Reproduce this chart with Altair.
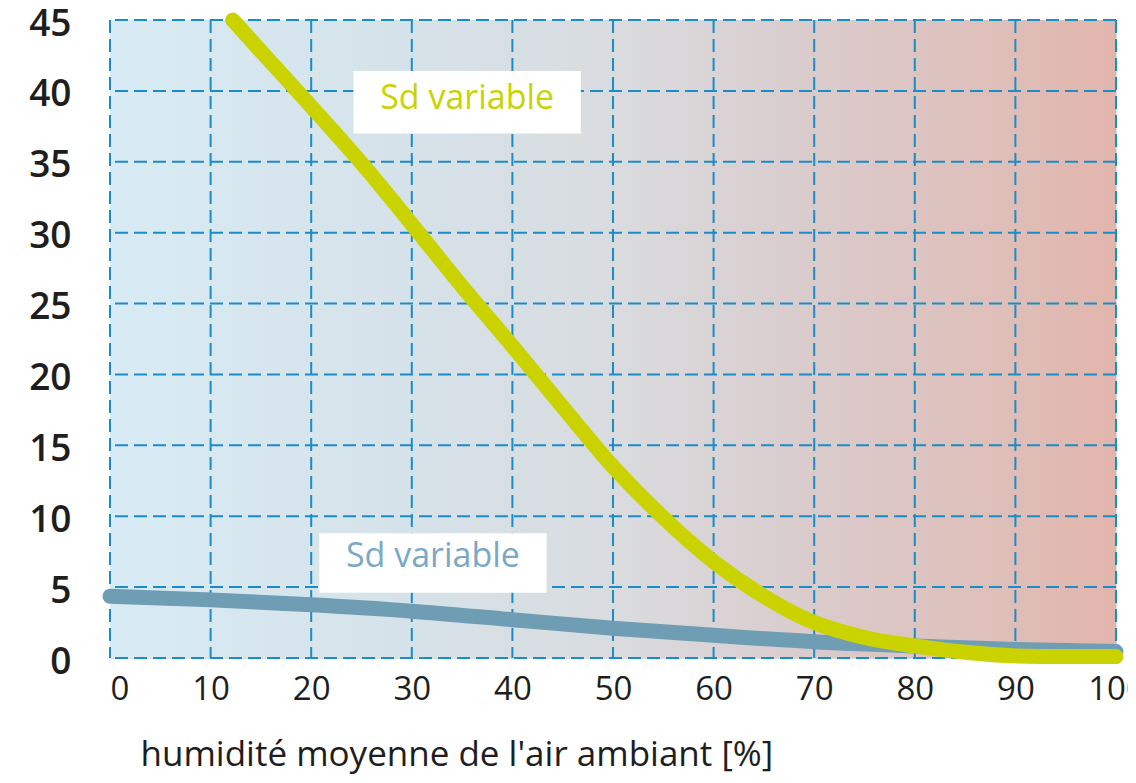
import altair as alt
import pandas as pd

# ---- data ----
yellow_x = [12.2, 15, 20, 25, 30, 35, 40, 45, 50, 55, 60, 65, 70, 75, 80, 85, 90, 95, 100]
yellow_y = [45.0, 42.8, 38.9, 34.9, 30.6, 26.2, 22.0, 17.7, 13.5, 9.9, 6.8, 4.35, 2.5, 1.45, 0.85, 0.4, 0.15, 0.1, 0.1]

blue_x = [0, 10, 20, 30, 40, 50, 60, 70, 80, 90, 100]
blue_y = [4.35, 4.1, 3.75, 3.3, 2.7, 2.1, 1.6, 1.15, 0.85, 0.6, 0.45]

x_ticks = [0, 10, 20, 30, 40, 50, 60, 70, 80, 90, 100]
y_ticks = [0, 5, 10, 15, 20, 25, 30, 35, 40, 45]

label_text = ["Sd variable", "Sd variable"]
label_series = ["yellow", "blue"]
label_x = [35.5, 32.1]
label_y = [39.4, 7.1]
box_x1 = [24.2, 20.8]
box_x2 = [46.8, 43.4]
box_y1 = [37.0, 4.6]
box_y2 = [41.4, 8.8]

x_title = "humidité moyenne de l'air ambiant [%]"

YELLOW = "#cad300"
BLUE_LINE = "#6f9db4"
BLUE_TEXT = "#7ba8c6"
GRID = "#1a8cc8"

xs = alt.Scale(domain=[0, 100], nice=False, zero=False)
ys = alt.Scale(domain=[0, 45], nice=False, zero=False)

gradient = {
    "gradient": "linear",
    "x1": 0, "x2": 1, "y1": 0, "y2": 0,
    "stops": [
        {"offset": 0.0, "color": "#d8ebf4"},
        {"offset": 0.3, "color": "#d6e2e9"},
        {"offset": 0.5, "color": "#d9dcdf"},
        {"offset": 0.7, "color": "#dacbcc"},
        {"offset": 0.9, "color": "#dfbeb7"},
        {"offset": 1.0, "color": "#e2b5ac"},
    ],
}

bg = alt.Chart(pd.DataFrame({"a": [0]})).mark_rect(fill=gradient, stroke=None).encode(
    x=alt.datum(0, scale=xs, type="quantitative"),
    x2=alt.datum(100),
    y=alt.datum(0, scale=ys, type="quantitative"),
    y2=alt.datum(45),
)

vgrid = alt.Chart(pd.DataFrame({"v": x_ticks})).mark_rule(
    color=GRID, strokeWidth=2, strokeDash=[13, 6]
).encode(x=alt.X("v:Q", scale=xs))

hgrid = alt.Chart(pd.DataFrame({"v": y_ticks})).mark_rule(
    color=GRID, strokeWidth=2, strokeDash=[13, 6]
).encode(y=alt.Y("v:Q", scale=ys))

blue_df = pd.DataFrame({"x": blue_x, "y": blue_y})
yellow_df = pd.DataFrame({"x": yellow_x, "y": yellow_y})

blue_line = alt.Chart(blue_df).mark_line(
    color=BLUE_LINE, strokeWidth=15, strokeCap="round", interpolate="monotone"
).encode(
    x=alt.X("x:Q", scale=xs,
            axis=alt.Axis(values=x_ticks, title=x_title, grid=False, domain=False,
                          ticks=False, tickSize=0, labelFontSize=33, labelFont="Open Sans",
                          labelColor="#1e1e1e", labelPadding=41, labelBaseline="alphabetic",
                          labelAlign=alt.expr("datum.value == 0 ? 'left' : 'center'"),
                          labelFlush=False, labelOverlap=False,
                          titleFont="Open Sans", titleFontSize=35, titleFontWeight="normal",
                          titleColor="#1e1e1e", titleAnchor="start", titleAlign="left",
                          titleBaseline="alphabetic", titleX=30, titleY=107)),
    y=alt.Y("y:Q", scale=ys,
            axis=alt.Axis(values=y_ticks, title=None, grid=False, domain=False,
                          ticks=False, tickSize=0, labelFontSize=37, labelFont="Open Sans",
                          labelFontWeight=600, labelColor="#1e1e1e", labelPadding=39,
                          labelOffset=4, labelFlush=False, labelOverlap=False)),
)

yellow_line = alt.Chart(yellow_df).mark_line(
    color=YELLOW, strokeWidth=15, strokeCap="round", interpolate="monotone"
).encode(x=alt.X("x:Q", scale=xs), y=alt.Y("y:Q", scale=ys))

lab_df = pd.DataFrame({
    "text": label_text, "series": label_series,
    "x": label_x, "y": label_y,
    "x1": box_x1, "x2": box_x2, "y1": box_y1, "y2": box_y2,
})

boxes = alt.Chart(lab_df).mark_rect(fill="white", stroke=None).encode(
    x=alt.X("x1:Q", scale=xs), x2="x2:Q",
    y=alt.Y("y1:Q", scale=ys), y2="y2:Q",
)

texts = alt.Chart(lab_df).mark_text(
    font="Open Sans", fontSize=34, align="center", baseline="middle"
).encode(
    x=alt.X("x:Q", scale=xs), y=alt.Y("y:Q", scale=ys),
    text="text:N",
    color=alt.Color("series:N", scale=alt.Scale(domain=["yellow", "blue"],
                                                 range=[YELLOW, BLUE_TEXT]), legend=None),
)

chart = alt.layer(bg, vgrid, hgrid, blue_line, yellow_line, boxes, texts).properties(
    width=1006, height=638,
    autosize=alt.AutoSizeParams(type="none"),
    padding={"left": 102, "top": 12, "right": 12, "bottom": 117},
).configure_view(stroke=None).configure(background="white")

chart.save("out.html", embed_options={"renderer": "svg", "actions": False})
